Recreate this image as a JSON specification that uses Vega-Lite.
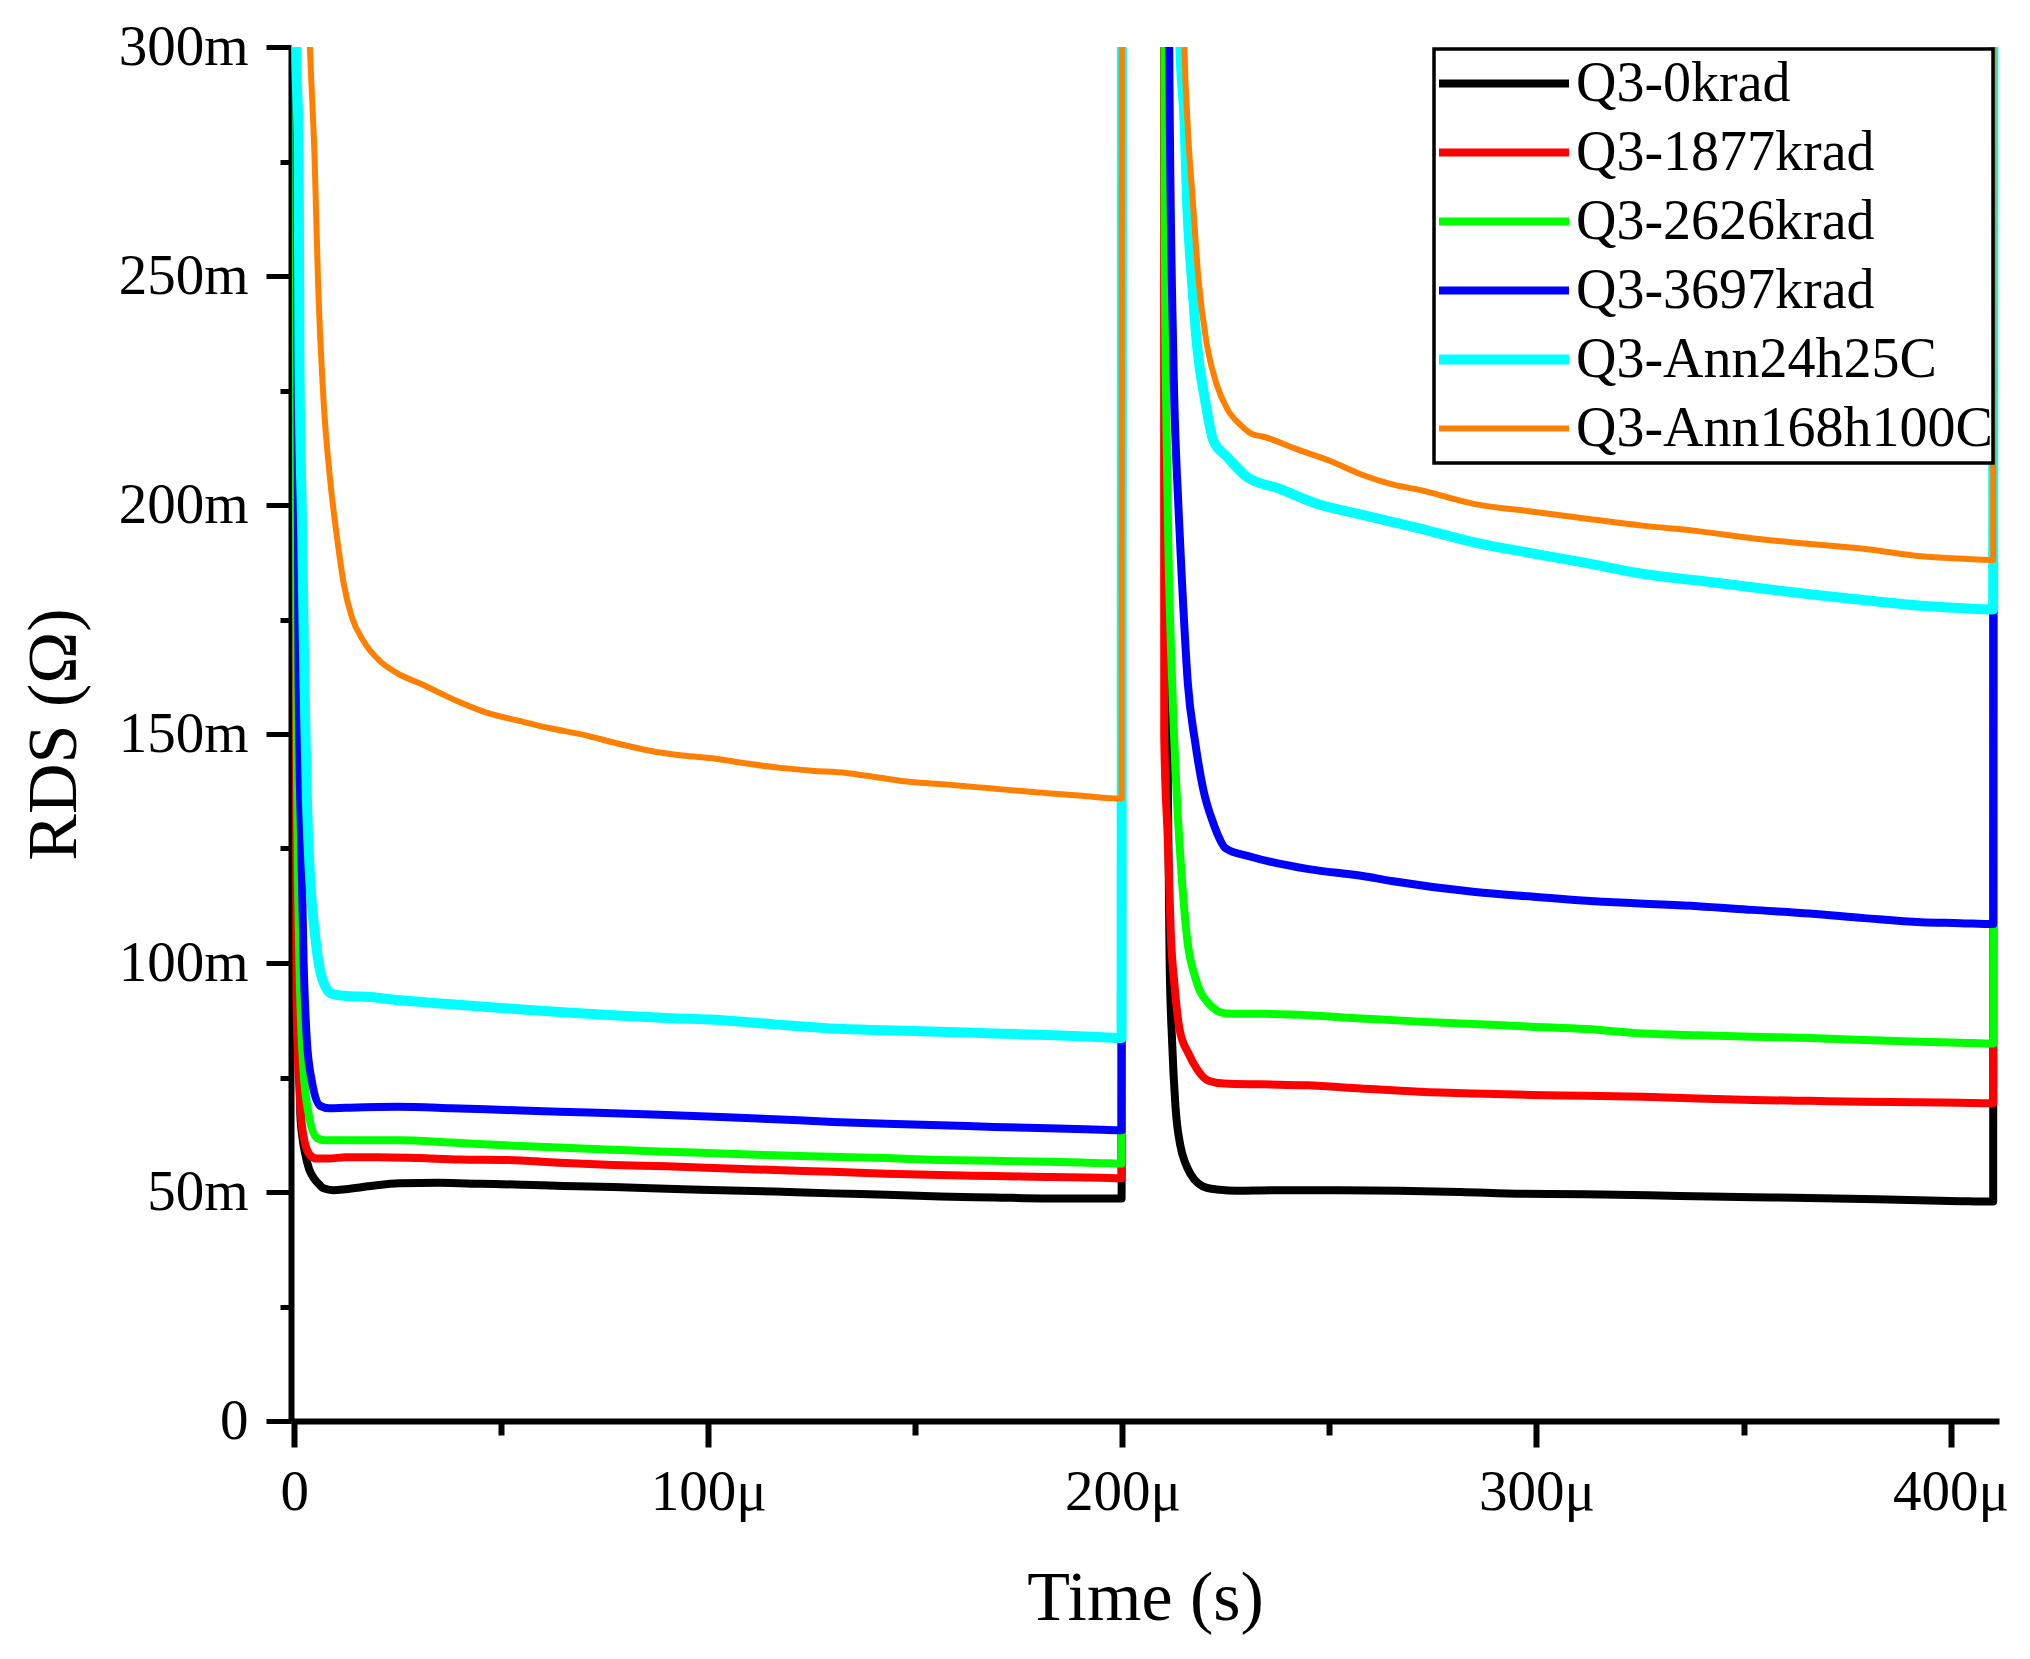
{
  "$schema": "https://vega.github.io/schema/vega-lite/v6.json",
  "description": "RDS versus time for Q3 after irradiation and annealing.",
  "autosize": "none",
  "padding": {"left": 291, "top": 47, "right": 31, "bottom": 238},
  "width": 1708,
  "height": 1374,
  "background": "white",
  "data": {
    "values": [
      {"series": "Q3-0krad", "t": 0.34, "r": 400},
      {"series": "Q3-0krad", "t": 0.74, "r": 150},
      {"series": "Q3-0krad", "t": 1.14, "r": 90},
      {"series": "Q3-0krad", "t": 1.45, "r": 67},
      {"series": "Q3-0krad", "t": 1.95, "r": 62},
      {"series": "Q3-0krad", "t": 2.65, "r": 58.3},
      {"series": "Q3-0krad", "t": 3.56, "r": 55},
      {"series": "Q3-0krad", "t": 4.66, "r": 53.1},
      {"series": "Q3-0krad", "t": 5.87, "r": 51.8},
      {"series": "Q3-0krad", "t": 7.07, "r": 50.8},
      {"series": "Q3-0krad", "t": 9.4, "r": 50.4},
      {"series": "Q3-0krad", "t": 12.4, "r": 50.6},
      {"series": "Q3-0krad", "t": 18.4, "r": 51.3},
      {"series": "Q3-0krad", "t": 25.5, "r": 51.9},
      {"series": "Q3-0krad", "t": 35, "r": 52.0},
      {"series": "Q3-0krad", "t": 45, "r": 51.8},
      {"series": "Q3-0krad", "t": 55, "r": 51.6},
      {"series": "Q3-0krad", "t": 65, "r": 51.3},
      {"series": "Q3-0krad", "t": 77, "r": 51.1},
      {"series": "Q3-0krad", "t": 90, "r": 50.7},
      {"series": "Q3-0krad", "t": 103, "r": 50.4},
      {"series": "Q3-0krad", "t": 116, "r": 50.1},
      {"series": "Q3-0krad", "t": 130, "r": 49.7},
      {"series": "Q3-0krad", "t": 143, "r": 49.4},
      {"series": "Q3-0krad", "t": 156, "r": 49.0},
      {"series": "Q3-0krad", "t": 169, "r": 48.8},
      {"series": "Q3-0krad", "t": 182, "r": 48.6},
      {"series": "Q3-0krad", "t": 195, "r": 48.6},
      {"series": "Q3-0krad", "t": 199.8, "r": 48.6},
      {"series": "Q3-0krad", "t": 199.9, "r": 400},
      {"series": "Q3-0krad", "t": 210.0, "r": 400},
      {"series": "Q3-0krad", "t": 210.6, "r": 200},
      {"series": "Q3-0krad", "t": 211.0, "r": 135},
      {"series": "Q3-0krad", "t": 211.4, "r": 100.3},
      {"series": "Q3-0krad", "t": 212.0, "r": 82.8},
      {"series": "Q3-0krad", "t": 212.8, "r": 68.8},
      {"series": "Q3-0krad", "t": 214.0, "r": 60.1},
      {"series": "Q3-0krad", "t": 215.2, "r": 56.3},
      {"series": "Q3-0krad", "t": 216.4, "r": 54.0},
      {"series": "Q3-0krad", "t": 218.4, "r": 51.8},
      {"series": "Q3-0krad", "t": 220.4, "r": 50.9},
      {"series": "Q3-0krad", "t": 223.5, "r": 50.5},
      {"series": "Q3-0krad", "t": 227.5, "r": 50.3},
      {"series": "Q3-0krad", "t": 236.5, "r": 50.4},
      {"series": "Q3-0krad", "t": 251.6, "r": 50.4},
      {"series": "Q3-0krad", "t": 266.7, "r": 50.3},
      {"series": "Q3-0krad", "t": 281.7, "r": 50.0},
      {"series": "Q3-0krad", "t": 296.8, "r": 49.6},
      {"series": "Q3-0krad", "t": 311.9, "r": 49.5},
      {"series": "Q3-0krad", "t": 327, "r": 49.3},
      {"series": "Q3-0krad", "t": 342, "r": 49.0},
      {"series": "Q3-0krad", "t": 357.1, "r": 48.8},
      {"series": "Q3-0krad", "t": 372.2, "r": 48.6},
      {"series": "Q3-0krad", "t": 387.3, "r": 48.3},
      {"series": "Q3-0krad", "t": 402.3, "r": 48.0},
      {"series": "Q3-0krad", "t": 410.3, "r": 47.9},
      {"series": "Q3-0krad", "t": 410.4, "r": 400},

      {"series": "Q3-1877krad", "t": 0.34, "r": 400},
      {"series": "Q3-1877krad", "t": 0.44, "r": 125},
      {"series": "Q3-1877krad", "t": 0.54, "r": 92},
      {"series": "Q3-1877krad", "t": 1.24, "r": 72},
      {"series": "Q3-1877krad", "t": 2.25, "r": 62},
      {"series": "Q3-1877krad", "t": 3.86, "r": 58},
      {"series": "Q3-1877krad", "t": 5.37, "r": 57.3},
      {"series": "Q3-1877krad", "t": 8.4, "r": 57.3},
      {"series": "Q3-1877krad", "t": 12.4, "r": 57.6},
      {"series": "Q3-1877krad", "t": 20, "r": 57.6},
      {"series": "Q3-1877krad", "t": 30, "r": 57.4},
      {"series": "Q3-1877krad", "t": 40, "r": 57.1},
      {"series": "Q3-1877krad", "t": 51, "r": 57.0},
      {"series": "Q3-1877krad", "t": 64, "r": 56.4},
      {"series": "Q3-1877krad", "t": 77, "r": 55.9},
      {"series": "Q3-1877krad", "t": 90, "r": 55.6},
      {"series": "Q3-1877krad", "t": 103, "r": 55.2},
      {"series": "Q3-1877krad", "t": 116, "r": 54.8},
      {"series": "Q3-1877krad", "t": 130, "r": 54.4},
      {"series": "Q3-1877krad", "t": 143, "r": 54.0},
      {"series": "Q3-1877krad", "t": 156, "r": 53.7},
      {"series": "Q3-1877krad", "t": 169, "r": 53.5},
      {"series": "Q3-1877krad", "t": 182, "r": 53.3},
      {"series": "Q3-1877krad", "t": 195, "r": 53.1},
      {"series": "Q3-1877krad", "t": 199.8, "r": 53.0},
      {"series": "Q3-1877krad", "t": 199.9, "r": 400},
      {"series": "Q3-1877krad", "t": 210.0, "r": 400},
      {"series": "Q3-1877krad", "t": 210.1, "r": 149},
      {"series": "Q3-1877krad", "t": 211.0, "r": 126},
      {"series": "Q3-1877krad", "t": 211.7, "r": 106},
      {"series": "Q3-1877krad", "t": 212.6, "r": 95},
      {"series": "Q3-1877krad", "t": 213.8, "r": 85.5},
      {"series": "Q3-1877krad", "t": 216.1, "r": 80},
      {"series": "Q3-1877krad", "t": 217.9, "r": 77},
      {"series": "Q3-1877krad", "t": 220.8, "r": 74.3},
      {"series": "Q3-1877krad", "t": 224.5, "r": 73.7},
      {"series": "Q3-1877krad", "t": 233.5, "r": 73.5},
      {"series": "Q3-1877krad", "t": 244.6, "r": 73.3},
      {"series": "Q3-1877krad", "t": 257.6, "r": 72.6},
      {"series": "Q3-1877krad", "t": 271.7, "r": 71.9},
      {"series": "Q3-1877krad", "t": 284.8, "r": 71.5},
      {"series": "Q3-1877krad", "t": 298.8, "r": 71.2},
      {"series": "Q3-1877krad", "t": 311.9, "r": 71.0},
      {"series": "Q3-1877krad", "t": 325.9, "r": 70.8},
      {"series": "Q3-1877krad", "t": 339, "r": 70.4},
      {"series": "Q3-1877krad", "t": 352.1, "r": 70.1},
      {"series": "Q3-1877krad", "t": 366.2, "r": 69.9},
      {"series": "Q3-1877krad", "t": 379.2, "r": 69.7},
      {"series": "Q3-1877krad", "t": 392.3, "r": 69.6},
      {"series": "Q3-1877krad", "t": 402.3, "r": 69.5},
      {"series": "Q3-1877krad", "t": 410.3, "r": 69.4},
      {"series": "Q3-1877krad", "t": 410.4, "r": 400},

      {"series": "Q3-2626krad", "t": 0.34, "r": 400},
      {"series": "Q3-2626krad", "t": 0.39, "r": 205},
      {"series": "Q3-2626krad", "t": 0.64, "r": 144},
      {"series": "Q3-2626krad", "t": 1.24, "r": 100.3},
      {"series": "Q3-2626krad", "t": 2.15, "r": 77.6},
      {"series": "Q3-2626krad", "t": 3.46, "r": 67.1},
      {"series": "Q3-2626krad", "t": 5.47, "r": 61.8},
      {"series": "Q3-2626krad", "t": 7.4, "r": 61.3},
      {"series": "Q3-2626krad", "t": 12.4, "r": 61.3},
      {"series": "Q3-2626krad", "t": 25, "r": 61.3},
      {"series": "Q3-2626krad", "t": 38, "r": 60.8},
      {"series": "Q3-2626krad", "t": 51, "r": 60.2},
      {"series": "Q3-2626krad", "t": 64, "r": 59.7},
      {"series": "Q3-2626krad", "t": 77, "r": 59.2},
      {"series": "Q3-2626krad", "t": 90, "r": 58.8},
      {"series": "Q3-2626krad", "t": 103, "r": 58.4},
      {"series": "Q3-2626krad", "t": 116, "r": 58.0},
      {"series": "Q3-2626krad", "t": 130, "r": 57.7},
      {"series": "Q3-2626krad", "t": 143, "r": 57.4},
      {"series": "Q3-2626krad", "t": 156, "r": 57.0},
      {"series": "Q3-2626krad", "t": 169, "r": 56.8},
      {"series": "Q3-2626krad", "t": 182, "r": 56.6},
      {"series": "Q3-2626krad", "t": 195, "r": 56.3},
      {"series": "Q3-2626krad", "t": 199.8, "r": 56.2},
      {"series": "Q3-2626krad", "t": 199.9, "r": 400},
      {"series": "Q3-2626krad", "t": 210.0, "r": 400},
      {"series": "Q3-2626krad", "t": 210.2, "r": 260},
      {"series": "Q3-2626krad", "t": 211.0, "r": 196.5},
      {"series": "Q3-2626krad", "t": 212.0, "r": 161.5},
      {"series": "Q3-2626krad", "t": 213.2, "r": 135.3},
      {"series": "Q3-2626krad", "t": 214.4, "r": 117.9},
      {"series": "Q3-2626krad", "t": 215.6, "r": 105.5},
      {"series": "Q3-2626krad", "t": 217.6, "r": 96.8},
      {"series": "Q3-2626krad", "t": 220.4, "r": 91.6},
      {"series": "Q3-2626krad", "t": 225.0, "r": 89.0},
      {"series": "Q3-2626krad", "t": 233.5, "r": 88.9},
      {"series": "Q3-2626krad", "t": 244.6, "r": 88.6},
      {"series": "Q3-2626krad", "t": 257.6, "r": 87.9},
      {"series": "Q3-2626krad", "t": 271.7, "r": 87.2},
      {"series": "Q3-2626krad", "t": 284.8, "r": 86.7},
      {"series": "Q3-2626krad", "t": 298.8, "r": 86.1},
      {"series": "Q3-2626krad", "t": 311.9, "r": 85.6},
      {"series": "Q3-2626krad", "t": 325.9, "r": 84.6},
      {"series": "Q3-2626krad", "t": 339, "r": 84.2},
      {"series": "Q3-2626krad", "t": 352.1, "r": 83.9},
      {"series": "Q3-2626krad", "t": 366.2, "r": 83.6},
      {"series": "Q3-2626krad", "t": 379.2, "r": 83.2},
      {"series": "Q3-2626krad", "t": 392.3, "r": 82.8},
      {"series": "Q3-2626krad", "t": 402.3, "r": 82.6},
      {"series": "Q3-2626krad", "t": 410.3, "r": 82.4},
      {"series": "Q3-2626krad", "t": 410.4, "r": 400},

      {"series": "Q3-3697krad", "t": 0.34, "r": 400},
      {"series": "Q3-3697krad", "t": 0.64, "r": 250},
      {"series": "Q3-3697krad", "t": 1.04, "r": 161.5},
      {"series": "Q3-3697krad", "t": 1.65, "r": 126.5},
      {"series": "Q3-3697krad", "t": 2.25, "r": 100.3},
      {"series": "Q3-3697krad", "t": 3.05, "r": 82.8},
      {"series": "Q3-3697krad", "t": 4.26, "r": 74.1},
      {"series": "Q3-3697krad", "t": 6.27, "r": 68.8},
      {"series": "Q3-3697krad", "t": 8.4, "r": 68.3},
      {"series": "Q3-3697krad", "t": 12.4, "r": 68.4},
      {"series": "Q3-3697krad", "t": 25, "r": 68.6},
      {"series": "Q3-3697krad", "t": 38, "r": 68.3},
      {"series": "Q3-3697krad", "t": 51, "r": 67.9},
      {"series": "Q3-3697krad", "t": 64, "r": 67.5},
      {"series": "Q3-3697krad", "t": 77, "r": 67.2},
      {"series": "Q3-3697krad", "t": 90, "r": 66.8},
      {"series": "Q3-3697krad", "t": 103, "r": 66.4},
      {"series": "Q3-3697krad", "t": 116, "r": 65.9},
      {"series": "Q3-3697krad", "t": 130, "r": 65.3},
      {"series": "Q3-3697krad", "t": 143, "r": 64.9},
      {"series": "Q3-3697krad", "t": 156, "r": 64.6},
      {"series": "Q3-3697krad", "t": 169, "r": 64.2},
      {"series": "Q3-3697krad", "t": 182, "r": 63.9},
      {"series": "Q3-3697krad", "t": 195, "r": 63.6},
      {"series": "Q3-3697krad", "t": 199.8, "r": 63.5},
      {"series": "Q3-3697krad", "t": 199.9, "r": 400},
      {"series": "Q3-3697krad", "t": 210.9, "r": 400},
      {"series": "Q3-3697krad", "t": 211.3, "r": 300},
      {"series": "Q3-3697krad", "t": 212.3, "r": 232},
      {"series": "Q3-3697krad", "t": 213.5, "r": 200},
      {"series": "Q3-3697krad", "t": 214.4, "r": 183},
      {"series": "Q3-3697krad", "t": 215.8, "r": 161},
      {"series": "Q3-3697krad", "t": 217.6, "r": 148},
      {"series": "Q3-3697krad", "t": 219.5, "r": 138},
      {"series": "Q3-3697krad", "t": 222, "r": 130.4},
      {"series": "Q3-3697krad", "t": 225, "r": 125},
      {"series": "Q3-3697krad", "t": 231, "r": 123.2},
      {"series": "Q3-3697krad", "t": 245, "r": 120.5},
      {"series": "Q3-3697krad", "t": 258, "r": 119},
      {"series": "Q3-3697krad", "t": 265, "r": 117.9},
      {"series": "Q3-3697krad", "t": 285.2, "r": 115.5},
      {"series": "Q3-3697krad", "t": 298.8, "r": 114.5},
      {"series": "Q3-3697krad", "t": 312.1, "r": 113.6},
      {"series": "Q3-3697krad", "t": 325, "r": 113.0},
      {"series": "Q3-3697krad", "t": 339, "r": 112.4},
      {"series": "Q3-3697krad", "t": 352.1, "r": 111.6},
      {"series": "Q3-3697krad", "t": 366, "r": 110.8},
      {"series": "Q3-3697krad", "t": 379.2, "r": 109.8},
      {"series": "Q3-3697krad", "t": 392.9, "r": 108.9},
      {"series": "Q3-3697krad", "t": 402.3, "r": 108.7},
      {"series": "Q3-3697krad", "t": 410.3, "r": 108.5},
      {"series": "Q3-3697krad", "t": 410.4, "r": 400},

      {"series": "Q3-Ann24h25C", "t": 0.34, "r": 400},
      {"series": "Q3-Ann24h25C", "t": 0.44, "r": 300},
      {"series": "Q3-Ann24h25C", "t": 1.04, "r": 278.8},
      {"series": "Q3-Ann24h25C", "t": 1.24, "r": 231.5},
      {"series": "Q3-Ann24h25C", "t": 1.85, "r": 196.5},
      {"series": "Q3-Ann24h25C", "t": 2.45, "r": 161.5},
      {"series": "Q3-Ann24h25C", "t": 3.05, "r": 135.3},
      {"series": "Q3-Ann24h25C", "t": 3.86, "r": 117.9},
      {"series": "Q3-Ann24h25C", "t": 5.06, "r": 105.6},
      {"series": "Q3-Ann24h25C", "t": 6.67, "r": 96.8},
      {"series": "Q3-Ann24h25C", "t": 9.08, "r": 93.3},
      {"series": "Q3-Ann24h25C", "t": 12.7, "r": 92.8},
      {"series": "Q3-Ann24h25C", "t": 18.4, "r": 92.6},
      {"series": "Q3-Ann24h25C", "t": 25, "r": 91.9},
      {"series": "Q3-Ann24h25C", "t": 38, "r": 91.0},
      {"series": "Q3-Ann24h25C", "t": 51, "r": 90.1},
      {"series": "Q3-Ann24h25C", "t": 64, "r": 89.3},
      {"series": "Q3-Ann24h25C", "t": 77, "r": 88.6},
      {"series": "Q3-Ann24h25C", "t": 90, "r": 88.0},
      {"series": "Q3-Ann24h25C", "t": 103.5, "r": 87.5},
      {"series": "Q3-Ann24h25C", "t": 116, "r": 86.6},
      {"series": "Q3-Ann24h25C", "t": 129.7, "r": 85.7},
      {"series": "Q3-Ann24h25C", "t": 143, "r": 85.3},
      {"series": "Q3-Ann24h25C", "t": 155.9, "r": 85.0},
      {"series": "Q3-Ann24h25C", "t": 169, "r": 84.6},
      {"series": "Q3-Ann24h25C", "t": 182, "r": 84.3},
      {"series": "Q3-Ann24h25C", "t": 195, "r": 83.8},
      {"series": "Q3-Ann24h25C", "t": 199.8, "r": 83.6},
      {"series": "Q3-Ann24h25C", "t": 199.9, "r": 400},
      {"series": "Q3-Ann24h25C", "t": 213.8, "r": 400},
      {"series": "Q3-Ann24h25C", "t": 214.0, "r": 300},
      {"series": "Q3-Ann24h25C", "t": 215.0, "r": 284},
      {"series": "Q3-Ann24h25C", "t": 215.6, "r": 266.5},
      {"series": "Q3-Ann24h25C", "t": 216.8, "r": 249},
      {"series": "Q3-Ann24h25C", "t": 218.0, "r": 235},
      {"series": "Q3-Ann24h25C", "t": 220.0, "r": 222.7},
      {"series": "Q3-Ann24h25C", "t": 222.0, "r": 214},
      {"series": "Q3-Ann24h25C", "t": 225.3, "r": 210.5},
      {"series": "Q3-Ann24h25C", "t": 230.1, "r": 206.1},
      {"series": "Q3-Ann24h25C", "t": 238.1, "r": 203.5},
      {"series": "Q3-Ann24h25C", "t": 246.2, "r": 200.5},
      {"series": "Q3-Ann24h25C", "t": 258.2, "r": 197.8},
      {"series": "Q3-Ann24h25C", "t": 271.7, "r": 194.9},
      {"series": "Q3-Ann24h25C", "t": 285.2, "r": 191.8},
      {"series": "Q3-Ann24h25C", "t": 298.6, "r": 189.5},
      {"series": "Q3-Ann24h25C", "t": 312.2, "r": 187.3},
      {"series": "Q3-Ann24h25C", "t": 325.6, "r": 185.0},
      {"series": "Q3-Ann24h25C", "t": 339, "r": 183.5},
      {"series": "Q3-Ann24h25C", "t": 352.5, "r": 182.0},
      {"series": "Q3-Ann24h25C", "t": 366, "r": 180.5},
      {"series": "Q3-Ann24h25C", "t": 379.4, "r": 179.2},
      {"series": "Q3-Ann24h25C", "t": 392.9, "r": 178.0},
      {"series": "Q3-Ann24h25C", "t": 402.3, "r": 177.5},
      {"series": "Q3-Ann24h25C", "t": 410.3, "r": 177.2},
      {"series": "Q3-Ann24h25C", "t": 410.4, "r": 400},

      {"series": "Q3-Ann168h100C", "t": 0.34, "r": 400},
      {"series": "Q3-Ann168h100C", "t": 3.76, "r": 300},
      {"series": "Q3-Ann168h100C", "t": 4.91, "r": 275.3},
      {"series": "Q3-Ann168h100C", "t": 5.72, "r": 249},
      {"series": "Q3-Ann168h100C", "t": 7.07, "r": 222.7},
      {"series": "Q3-Ann168h100C", "t": 8.68, "r": 205.3},
      {"series": "Q3-Ann168h100C", "t": 10.29, "r": 193.1},
      {"series": "Q3-Ann168h100C", "t": 12.0, "r": 182.5},
      {"series": "Q3-Ann168h100C", "t": 13.9, "r": 175.5},
      {"series": "Q3-Ann168h100C", "t": 16.7, "r": 170.3},
      {"series": "Q3-Ann168h100C", "t": 20.7, "r": 165.9},
      {"series": "Q3-Ann168h100C", "t": 24.8, "r": 163.3},
      {"series": "Q3-Ann168h100C", "t": 31.2, "r": 160.7},
      {"series": "Q3-Ann168h100C", "t": 39.3, "r": 157.2},
      {"series": "Q3-Ann168h100C", "t": 46.6, "r": 154.6},
      {"series": "Q3-Ann168h100C", "t": 54.6, "r": 152.8},
      {"series": "Q3-Ann168h100C", "t": 61.6, "r": 151.3},
      {"series": "Q3-Ann168h100C", "t": 70.4, "r": 149.7},
      {"series": "Q3-Ann168h100C", "t": 77.7, "r": 148.0},
      {"series": "Q3-Ann168h100C", "t": 86.2, "r": 146.3},
      {"series": "Q3-Ann168h100C", "t": 93.8, "r": 145.3},
      {"series": "Q3-Ann168h100C", "t": 101.8, "r": 144.6},
      {"series": "Q3-Ann168h100C", "t": 108.9, "r": 143.6},
      {"series": "Q3-Ann168h100C", "t": 117.5, "r": 142.6},
      {"series": "Q3-Ann168h100C", "t": 125, "r": 142.0},
      {"series": "Q3-Ann168h100C", "t": 133.3, "r": 141.5},
      {"series": "Q3-Ann168h100C", "t": 141, "r": 140.5},
      {"series": "Q3-Ann168h100C", "t": 149, "r": 139.5},
      {"series": "Q3-Ann168h100C", "t": 157.1, "r": 139.0},
      {"series": "Q3-Ann168h100C", "t": 164.7, "r": 138.4},
      {"series": "Q3-Ann168h100C", "t": 172.2, "r": 137.8},
      {"series": "Q3-Ann168h100C", "t": 180.4, "r": 137.2},
      {"series": "Q3-Ann168h100C", "t": 190.3, "r": 136.5},
      {"series": "Q3-Ann168h100C", "t": 199.8, "r": 135.9},
      {"series": "Q3-Ann168h100C", "t": 199.9, "r": 400},
      {"series": "Q3-Ann168h100C", "t": 214.8, "r": 400},
      {"series": "Q3-Ann168h100C", "t": 215.0, "r": 300},
      {"series": "Q3-Ann168h100C", "t": 215.7, "r": 284},
      {"series": "Q3-Ann168h100C", "t": 217.0, "r": 266.5},
      {"series": "Q3-Ann168h100C", "t": 218.4, "r": 249},
      {"series": "Q3-Ann168h100C", "t": 220.4, "r": 235},
      {"series": "Q3-Ann168h100C", "t": 222.8, "r": 226.2},
      {"series": "Q3-Ann168h100C", "t": 225.3, "r": 221},
      {"series": "Q3-Ann168h100C", "t": 228.5, "r": 217.5},
      {"series": "Q3-Ann168h100C", "t": 231.3, "r": 215.5},
      {"series": "Q3-Ann168h100C", "t": 234.1, "r": 214.9},
      {"series": "Q3-Ann168h100C", "t": 242.1, "r": 212.2},
      {"series": "Q3-Ann168h100C", "t": 250.2, "r": 209.6},
      {"series": "Q3-Ann168h100C", "t": 258.2, "r": 206.5},
      {"series": "Q3-Ann168h100C", "t": 264.7, "r": 204.6},
      {"series": "Q3-Ann168h100C", "t": 271.7, "r": 203.3},
      {"series": "Q3-Ann168h100C", "t": 285.2, "r": 200.2},
      {"series": "Q3-Ann168h100C", "t": 298.6, "r": 198.6},
      {"series": "Q3-Ann168h100C", "t": 312.2, "r": 197.0},
      {"series": "Q3-Ann168h100C", "t": 325.6, "r": 195.5},
      {"series": "Q3-Ann168h100C", "t": 339, "r": 194.3},
      {"series": "Q3-Ann168h100C", "t": 352.5, "r": 192.7},
      {"series": "Q3-Ann168h100C", "t": 366, "r": 191.5},
      {"series": "Q3-Ann168h100C", "t": 379.4, "r": 190.4},
      {"series": "Q3-Ann168h100C", "t": 392.9, "r": 188.8},
      {"series": "Q3-Ann168h100C", "t": 402.3, "r": 188.3},
      {"series": "Q3-Ann168h100C", "t": 410.3, "r": 188.0},
      {"series": "Q3-Ann168h100C", "t": 410.4, "r": 400}
    ]
  },
  "mark": {"type": "line", "clip": true, "interpolate": "monotone", "strokeJoin": "round"},
  "encoding": {
    "x": {
      "field": "t",
      "type": "quantitative",
      "scale": {"domain": [-0.8, 411.7], "nice": false, "zero": false},
      "axis": {
        "title": "Time (s)",
        "values": [0, 50, 100, 150, 200, 250, 300, 350, 400],
        "labelExpr": "datum.value % 100 == 0 ? (datum.value == 0 ? '0' : datum.value + 'μ') : ''",
        "tickSize": {"condition": {"test": "datum.value % 100 == 0", "value": 26}, "value": 14},
        "tickWidth": 6,
        "labelPadding": 17,
        "titlePadding": 44
      }
    },
    "y": {
      "field": "r",
      "type": "quantitative",
      "scale": {"domain": [0, 300], "nice": false},
      "axis": {
        "title": "RDS (Ω)",
        "values": [0, 25, 50, 75, 100, 125, 150, 175, 200, 225, 250, 275, 300],
        "labelExpr": "datum.value % 50 == 0 ? (datum.value == 0 ? '0' : datum.value + 'm') : ''",
        "tickSize": {"condition": {"test": "datum.value % 50 == 0", "value": 25}, "value": 11},
        "tickWidth": 5,
        "labelPadding": 18,
        "titlePadding": 28
      }
    },
    "color": {
      "field": "series",
      "type": "nominal",
      "scale": {
        "domain": ["Q3-0krad", "Q3-1877krad", "Q3-2626krad", "Q3-3697krad", "Q3-Ann24h25C", "Q3-Ann168h100C"],
        "range": ["#000000", "#ff0000", "#00ff00", "#0000ff", "#00ffff", "#ff8000"]
      },
      "legend": {
        "orient": "none",
        "legendX": 1143,
        "legendY": 2,
        "title": null,
        "symbolType": "stroke",
        "symbolSize": 16900,
        "symbolStrokeWidth": 4,
        "labelFont": "Liberation Serif",
        "labelFontSize": 56,
        "labelColor": "black",
        "labelOffset": 2,
        "labelLimit": 1000,
        "clipHeight": 69,
        "rowPadding": 0,
        "padding": 0,
        "strokeColor": "black",
        "fillColor": "white"
      }
    },
    "strokeWidth": {
      "field": "series",
      "type": "ordinal",
      "scale": {
        "type": "ordinal",
        "domain": ["Q3-0krad", "Q3-1877krad", "Q3-2626krad", "Q3-3697krad", "Q3-Ann24h25C", "Q3-Ann168h100C"],
        "range": [8, 8, 8, 8, 10, 6]
      },
      "legend": null
    }
  },
  "config": {
    "view": {"stroke": null},
    "legend": {"strokeWidth": 3.5},
    "axis": {
      "grid": false,
      "domainColor": "black",
      "domainWidth": 6,
      "tickColor": "black",
      "labelFont": "Liberation Serif",
      "labelFontSize": 57,
      "labelColor": "black",
      "labelOverlap": false,
      "labelFlush": false,
      "titleFont": "Liberation Serif",
      "titleFontSize": 70,
      "titleFontWeight": "normal",
      "titleColor": "black"
    }
  }
}
